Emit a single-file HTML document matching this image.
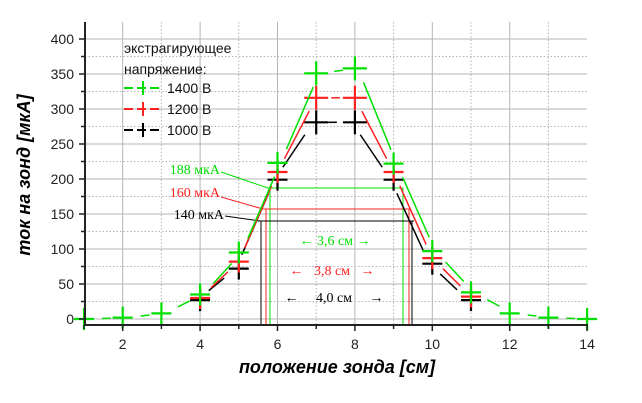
<!DOCTYPE html>
<html><head><meta charset="utf-8"><style>
html,body{margin:0;padding:0;background:#fff;}
svg{display:block;}
text{font-family:"Liberation Sans",Arial,sans-serif;}
text.serif{font-family:"Liberation Serif","Times New Roman",serif;}
</style></head><body>
<svg id="s" width="642" height="403" viewBox="0 0 642 403" xmlns="http://www.w3.org/2000/svg">
<g id="grid"></g>
<g id="ann" font-size="14">
 <line x1="221" y1="172" x2="268" y2="188" stroke="#00e000" stroke-width="1"/>
 <line x1="221" y1="197" x2="263" y2="209" stroke="#ff2020" stroke-width="1"/>
 <line x1="225" y1="216" x2="260" y2="221" stroke="#000" stroke-width="1"/>
 <line x1="268" y1="188" x2="403" y2="188" stroke="#00e000"/>
 <line x1="270" y1="188" x2="270" y2="325" stroke="#00e000"/>
 <line x1="403" y1="188" x2="403" y2="325" stroke="#00e000"/>
 <line x1="263" y1="209" x2="411" y2="209" stroke="#ff2020"/>
 <line x1="266" y1="209" x2="266" y2="325" stroke="#ff2020"/>
 <line x1="409" y1="209" x2="409" y2="325" stroke="#ff2020"/>
 <line x1="258" y1="221" x2="414" y2="221" stroke="#000"/>
 <line x1="261" y1="221" x2="261" y2="325" stroke="#000"/>
 <line x1="412" y1="221" x2="412" y2="325" stroke="#000"/>
 <text class="serif" x="220" y="174" fill="#00e000" text-anchor="end">188 мкА</text>
 <text class="serif" x="220" y="197" fill="#ff2020" text-anchor="end">160 мкА</text>
 <text class="serif" x="224" y="219" fill="#000" text-anchor="end">140 мкА</text>
 <text class="serif" x="335" y="245" fill="#00e000" text-anchor="middle">← 3,6 см →</text>
 <text class="serif" x="332" y="275" fill="#ff2020" text-anchor="middle">←&#160;&#160;&#160;3,8 см&#160;&#160;&#160;→</text>
 <text class="serif" x="334" y="302" fill="#000" text-anchor="middle">←&#160;&#160;&#160;&#160;&#160;4,0 см&#160;&#160;&#160;&#160;&#160;→</text>
</g>
<g id="data"></g>
<g font-size="14" fill="#111">
 <text x="124" y="53">экстрагирующее</text>
 <text x="124" y="74">напряжение:</text>
 <line x1="124" y1="88" x2="163" y2="88" stroke="#00e000" stroke-width="2" stroke-dasharray="9,4"/>
 <line x1="143" y1="81" x2="143" y2="95" stroke="#00e000" stroke-width="2"/>
 <text x="167" y="93">1400 B</text>
 <line x1="124" y1="109" x2="163" y2="109" stroke="#ff2020" stroke-width="2" stroke-dasharray="9,4"/>
 <line x1="143" y1="102" x2="143" y2="116" stroke="#ff2020" stroke-width="2"/>
 <text x="167" y="114">1200 B</text>
 <line x1="124" y1="130" x2="163" y2="130" stroke="#000" stroke-width="2" stroke-dasharray="9,4"/>
 <line x1="143" y1="123" x2="143" y2="137" stroke="#000" stroke-width="2"/>
 <text x="167" y="135">1000 B</text>
</g>
<g id="axes"></g>
<text x="337" y="373" text-anchor="middle" font-size="18" font-weight="bold" font-style="italic">положение зонда [см]</text>
<text transform="translate(30,175) rotate(-90)" text-anchor="middle" font-size="18" font-weight="bold" font-style="italic">ток на зонд [мкА]</text>
</svg>
<script>
var NS="http://www.w3.org/2000/svg";
function px(x){return 84+38.7*(x-1);}
function py(y){return 319-0.7*y;}
function el(p,t,a){var e=document.createElementNS(NS,t);for(var k in a)e.setAttribute(k,a[k]);p.appendChild(e);return e;}
var g=document.getElementById('grid'),ax=document.getElementById('axes'),d=document.getElementById('data');
for(var x=2;x<=13;x++){var xx=px(x);el(g,'line',{x1:xx,y1:22,x2:xx,y2:325,stroke:'#b4b4b4','stroke-width':1,'stroke-dasharray':x%2?'1.5,2':'none'});}
for(var y=0;y<=425;y+=25){var yy=py(y);if(yy<22)continue;el(g,'line',{x1:85,y1:yy,x2:587,y2:yy,stroke:'#b4b4b4','stroke-width':1,'stroke-dasharray':(y%50)?'1.5,2':'none'});}
el(ax,'line',{x1:85,y1:22,x2:85,y2:326,stroke:'#222','stroke-width':2});
el(ax,'line',{x1:84,y1:325,x2:588,y2:325,stroke:'#222','stroke-width':2});
for(var x=1;x<=14;x++){var xx=px(x);el(ax,'line',{x1:xx,y1:325,x2:xx,y2:x%2?329:331,stroke:'#222','stroke-width':1.5});
 if(x%2==0){var t=el(ax,'text',{x:xx,y:349,'text-anchor':'middle','font-size':14,fill:'#222'});t.textContent=x;}}
for(var y=0;y<=425;y+=25){var yy=py(y);if(yy<22)continue;el(ax,'line',{x1:85,y1:yy,x2:y%50?81:79,y2:yy,stroke:'#222','stroke-width':1.5});
 if(y%50==0){var t=el(ax,'text',{x:74,y:yy+5,'text-anchor':'end','font-size':14,fill:'#222'});t.textContent=y;}}
var S=[
 {c:'#000',p:[[4,27],[5,72],[6,199],[7,281],[8,281],[9,199],[10,79],[11,27]]},
 {c:'#ff2020',p:[[4,30],[5,82],[6,210],[7,316],[8,316],[9,210],[10,87],[11,32]]},
 {c:'#00e000',p:[[1,0],[2,2],[3,8],[4,35],[5,95],[6,223],[7,351],[8,358],[9,222],[10,97],[11,38],[12,8],[13,2],[14,0]]}
];
S.forEach(function(s,si){
 var P=s.p.map(function(q){return [px(q[0]),py(q[1])];});
 for(var i=0;i<P.length-1;i++){var a=P[i],b=P[i+1];var dx=b[0]-a[0],dy=b[1]-a[1],L=Math.sqrt(dx*dx+dy*dy);var tr=15;if(L<2*tr+3)continue;
  var off=(si-1)*3;
  el(d,'line',{x1:a[0]+dx*tr/L+off,y1:a[1]+dy*tr/L,x2:b[0]-dx*tr/L+off,y2:b[1]-dy*tr/L,stroke:s.c,'stroke-width':1.5});}
 P.forEach(function(q,i){var big=s.p[i][0]==7||s.p[i][0]==8;var w=big?12:10,h=big?12:11;
  el(d,'line',{x1:q[0]-w,y1:q[1],x2:q[0]+w,y2:q[1],stroke:s.c,'stroke-width':2.2});
  el(d,'line',{x1:q[0],y1:q[1]-h,x2:q[0],y2:q[1]+h,stroke:s.c,'stroke-width':2.2});});
});
</script>
</body></html>
